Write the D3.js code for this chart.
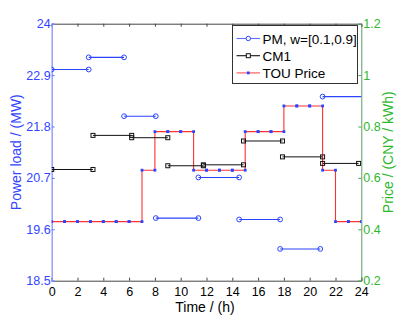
<!DOCTYPE html>
<html><head><meta charset="utf-8">
<script src="https://cdn.jsdelivr.net/npm/d3@7"></script>
<style>body{margin:0;background:#fff}svg{display:block;font-family:"Liberation Sans",Arial,sans-serif}</style>
</head><body><svg id="c" width="399" height="316"></svg>
<script>
const xTicks = [0,2,4,6,8,10,12,14,16,18,20,22,24];
const yLeftTicks = [18.5,19.6,20.7,21.8,22.9,24];
const yLeftLabels = ["18.5","19.6","20.7","21.8","22.9","24"];
const yRightTicks = [0.2,0.4,0.6,0.8,1,1.2];
const yRightLabels = ["0.2","0.4","0.6","0.8","1","1.2"];

// PM, w=[0.1,0.9]
const pmStart = [0, 2.87, 5.61, 8.07, 11.37, 14.53, 17.71, 21.0];
const pmEnd   = [2.87, 5.61, 8.07, 11.37, 14.53, 17.71, 20.82, 24.5];
const pmLoad  = [23.02, 23.28, 22.02, 19.84, 20.71, 19.81, 19.18, 22.44];

// CM1
const cmStart = [0, 3.2, 6.2, 9.0, 11.76, 14.87, 17.89, 21.0];
const cmEnd   = [3.2, 6.2, 9.0, 11.76, 14.87, 17.89, 21.0, 23.79];
const cmLoad  = [20.88, 21.61, 21.56, 20.96, 20.98, 21.49, 21.15, 21.01];

// TOU price per hour (hour i .. i+1)
const hours = d3.range(0, 24);
const price = [0.43,0.43,0.43,0.43,0.43,0.43,0.43,0.63,0.78,0.78,0.78,0.63,0.63,0.63,0.63,0.78,0.78,0.78,0.88,0.88,0.88,0.63,0.43,0.43];

const legendNames = ["PM, w=[0.1,0.9]", "CM1", "TOU Price"];

const L = 51.7, R = 361.3, T = 23.7, B = 280.7;
const svg = d3.select("#c");
const x = d3.scaleLinear().domain([0,24]).range([L,R]);
const yL = d3.scaleLinear().domain([18.5,24]).range([B,T]);
const yR = d3.scaleLinear().domain([0.2,1.2]).range([B,T]);

const blue = "#2a44ff", red = "#ff3030", black = "#111", green = "#2eb82e";

svg.append("defs").append("clipPath").attr("id","clip")
  .append("rect").attr("x",L).attr("y",T-4).attr("width",R-L).attr("height",B-T+8);

// axes frame: top & bottom
const bottomAx = svg.append("g").attr("transform",`translate(0,${B})`)
  .call(d3.axisBottom(x).tickValues(xTicks).tickSize(-3).tickPadding(6).tickFormat(d3.format("d")));
bottomAx.select(".domain").attr("stroke","#444");
bottomAx.selectAll("line").attr("stroke","#444");
bottomAx.selectAll("text").attr("font-size",12.5).attr("fill","#000").attr("font-family","Liberation Sans, Arial");

const topAx = svg.append("g").attr("transform",`translate(0,${T})`)
  .call(d3.axisTop(x).tickValues(xTicks).tickSize(-3).tickFormat(""));
topAx.select(".domain").attr("stroke","#444");
topAx.selectAll("line").attr("stroke","#444");

const leftAx = svg.append("g").attr("transform",`translate(${L},0)`)
  .call(d3.axisLeft(yL).tickValues(yLeftTicks).tickSize(-3).tickPadding(1).tickFormat((d,i)=>yLeftLabels[i]));
leftAx.select(".domain").attr("stroke","#8f9aff").attr("stroke-width",1.4);
leftAx.selectAll("line").attr("stroke","#6677ff");
leftAx.selectAll("text").attr("font-size",12.5).attr("fill","#3344ff").attr("font-family","Liberation Sans, Arial");

const rightAx = svg.append("g").attr("transform",`translate(${R},0)`)
  .call(d3.axisRight(yR).tickValues(yRightTicks).tickSize(-3).tickPadding(2).tickFormat((d,i)=>yRightLabels[i]));
rightAx.select(".domain").attr("stroke","#5a9a6a");
rightAx.selectAll("line").attr("stroke","#5a9a6a");
rightAx.selectAll("text").attr("font-size",12.5).attr("fill",green).attr("font-family","Liberation Sans, Arial");

// axis titles
svg.append("text").attr("x",205).attr("y",311.5).attr("text-anchor","middle")
  .attr("font-size",14).attr("fill","#000").text("Time / (h)");
svg.append("text").attr("transform",`translate(21,${(T+B)/2}) rotate(-90)`).attr("text-anchor","middle")
  .attr("font-size",14).attr("fill","#3344ff").text("Power load / (MW)");
svg.append("text").attr("transform",`translate(393,${(T+B)/2}) rotate(-90)`).attr("text-anchor","middle")
  .attr("font-size",14).attr("fill",green).text("Price / (CNY / kWh)");

const plot = svg.append("g").attr("clip-path","url(#clip)");

// TOU price stairs
const pricePts = [];
hours.forEach((h,i)=>{ pricePts.push([h, price[i]]); pricePts.push([h+1, price[i]]); });
plot.append("path").attr("fill","none").attr("stroke",red).attr("stroke-width",1.1)
  .attr("d", d3.line().x(d=>x(d[0])).y(d=>yR(d[1]))(pricePts));
plot.selectAll(".pd").data(pricePts).enter().append("rect")
  .attr("x",d=>x(d[0])-1.4).attr("y",d=>yR(d[1])-1.4).attr("width",2.8).attr("height",2.8).attr("fill",blue);

// CM1 segments
cmStart.forEach((s,i)=>{
  const g = plot.append("g");
  g.append("line").attr("x1",x(s)).attr("x2",x(cmEnd[i])).attr("y1",yL(cmLoad[i])).attr("y2",yL(cmLoad[i]))
    .attr("stroke",black).attr("stroke-width",1);
  [s, cmEnd[i]].forEach(v=>{
    g.append("rect").attr("x",x(v)-2).attr("y",yL(cmLoad[i])-2).attr("width",4).attr("height",4)
      .attr("fill","none").attr("stroke",black).attr("stroke-width",1);
  });
});

// PM segments
pmStart.forEach((s,i)=>{
  const g = plot.append("g");
  g.append("line").attr("x1",x(s)).attr("x2",x(pmEnd[i])).attr("y1",yL(pmLoad[i])).attr("y2",yL(pmLoad[i]))
    .attr("stroke",blue).attr("stroke-width",1.1);
  [s, pmEnd[i]].forEach(v=>{
    g.append("circle").attr("cx",x(v)).attr("cy",yL(pmLoad[i])).attr("r",2.4)
      .attr("fill","none").attr("stroke",blue).attr("stroke-width",1);
  });
});

// Legend
const lg = svg.append("g");
lg.append("rect").attr("x",232.5).attr("y",25.5).attr("width",125).attr("height",58)
  .attr("fill","#fff").attr("stroke","#333").attr("stroke-width",1);
const ly = [38.5, 55.7, 72.9];
const lcol = ["#5e6cff", black, "#ff5050"];
legendNames.forEach((n,i)=>{
  lg.append("line").attr("x1",236.5).attr("x2",260).attr("y1",ly[i]).attr("y2",ly[i])
    .attr("stroke",lcol[i]).attr("stroke-width",1.1);
  if(i===0) lg.append("circle").attr("cx",248.3).attr("cy",ly[i]).attr("r",2.2).attr("fill","#fff").attr("stroke",blue);
  if(i===1) lg.append("rect").attr("x",246.3).attr("y",ly[i]-2).attr("width",4).attr("height",4).attr("fill","#fff").attr("stroke",black);
  if(i===2) lg.append("rect").attr("x",246.9).attr("y",ly[i]-1.4).attr("width",2.8).attr("height",2.8).attr("fill",blue);
  lg.append("text").attr("x",262.5).attr("y",ly[i]+5).attr("font-size",13.5).attr("fill","#000").text(n);
});
</script></body></html>
